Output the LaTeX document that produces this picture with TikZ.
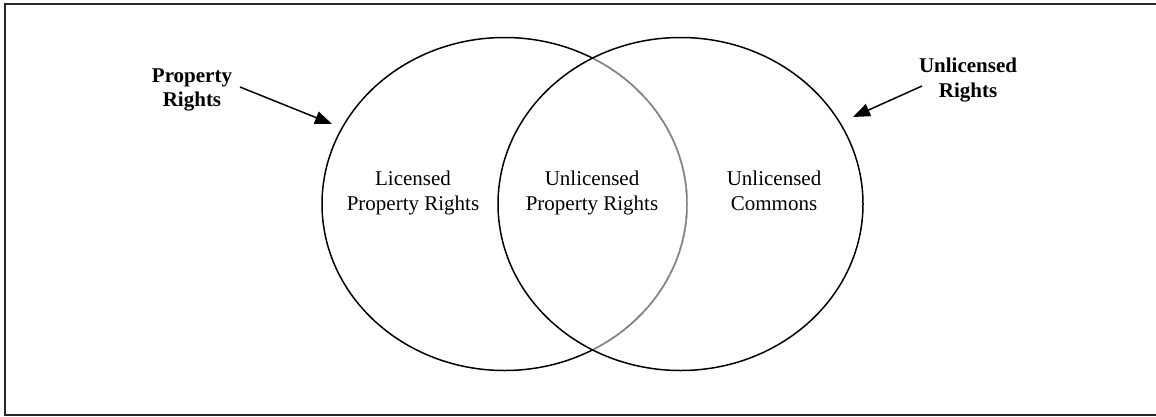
\documentclass[tikz,border=0pt]{standalone}
\usepackage{fontspec}
\setmainfont{Liberation Serif}
\usetikzlibrary{arrows.meta}
\begin{document}
\begin{tikzpicture}[x=1pt,y=-1pt,
  setline/.style={line width=1.5pt,black},
  inner/.style={font=\fontsize{21}{25}\selectfont,align=center,inner sep=0pt},
  tag/.style={font=\fontsize{21}{24.5}\selectfont\bfseries,align=center,inner sep=0pt},
  pointer/.style={line width=1.5pt,-{Triangle[length=17pt,width=13pt]}}]
\useasboundingbox (0,0) rectangle (1156,416);
% outer frame (right side runs past the page edge)
\draw[line width=1.5pt,black!85] (5,4) rectangle (1164,415);

% the two sets
\draw[setline] (504.5,204) ellipse [x radius=182.5pt, y radius=166.5pt];
\begin{scope}
  \clip (680.5,204) ellipse [x radius=182.5pt, y radius=166.5pt];
  \draw[line width=1.8pt,white] (504.5,204) ellipse [x radius=182.5pt, y radius=166.5pt];
  \draw[line width=1.5pt,black!50] (504.5,204) ellipse [x radius=182.5pt, y radius=166.5pt];
\end{scope}
\draw[setline] (680.5,204) ellipse [x radius=182.5pt, y radius=166.5pt];

% region texts
\node[inner] (lic) at (413,193) {Licensed\\Property Rights};
\node[inner] (both) at (592,193) {Unlicensed\\Property Rights};
\node[inner] (com) at (774,190.5) {Unlicensed\\Commons};

% set labels
\node[tag] (prop) at (192,90) {Property\\Rights};
\node[tag] (unl) at (968,80) {Unlicensed\\Rights};

% arrows pointing at the sets
\coordinate (propTail) at (240,87);
\coordinate (propTip) at (332,124);
\coordinate (unlTail) at (922,86);
\coordinate (unlTip) at (853,117);
\draw[pointer] (propTail) -- (propTip);
\draw[pointer] (unlTail) -- (unlTip);
\end{tikzpicture}
\end{document}
